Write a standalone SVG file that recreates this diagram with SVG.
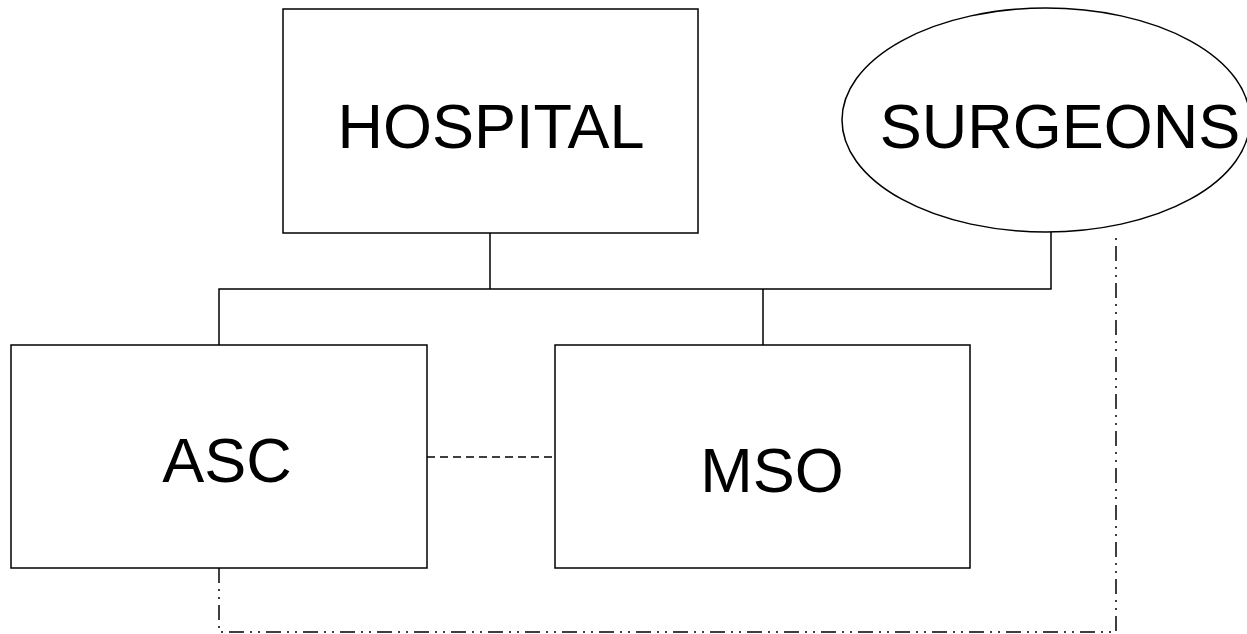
<svg xmlns="http://www.w3.org/2000/svg" width="1247" height="634" viewBox="0 0 1247 634">
<style>
.box{fill:#fff;stroke:#000;stroke-width:1.5}
.lbl{font-family:"Liberation Sans",Arial,sans-serif;font-size:63px;fill:#000;text-anchor:middle}
.solid{fill:none;stroke:#000;stroke-width:1.5}
.dash{fill:none;stroke:#000;stroke-width:1.5;stroke-dasharray:8 5}
.dashdot{fill:none;stroke:#000;stroke-width:1.5;stroke-dasharray:15 6 2 6 2 6}
</style>
<rect width="1247" height="634" fill="#fff"/>
<g id="connectors">
<path class="solid" d="M490 233V289M219 345V289H1051V232M763 289V345"/>
<path class="dash" d="M427 457H555"/>
<path class="dashdot" d="M219 568V632H1116V232"/>
</g>
<g id="hospital"><rect class="box" x="283" y="9" width="415" height="224"/><text class="lbl" x="491" y="148">HOSPITAL</text></g>
<g id="surgeons"><ellipse class="box" cx="1046" cy="120" rx="204" ry="112"/><text class="lbl" x="1060" y="148">SURGEONS</text></g>
<g id="asc"><rect class="box" x="11" y="345" width="416" height="223"/><text class="lbl" x="227" y="482">ASC</text></g>
<g id="mso"><rect class="box" x="555" y="345" width="415" height="223"/><text class="lbl" x="772" y="492">MSO</text></g>
</svg>
